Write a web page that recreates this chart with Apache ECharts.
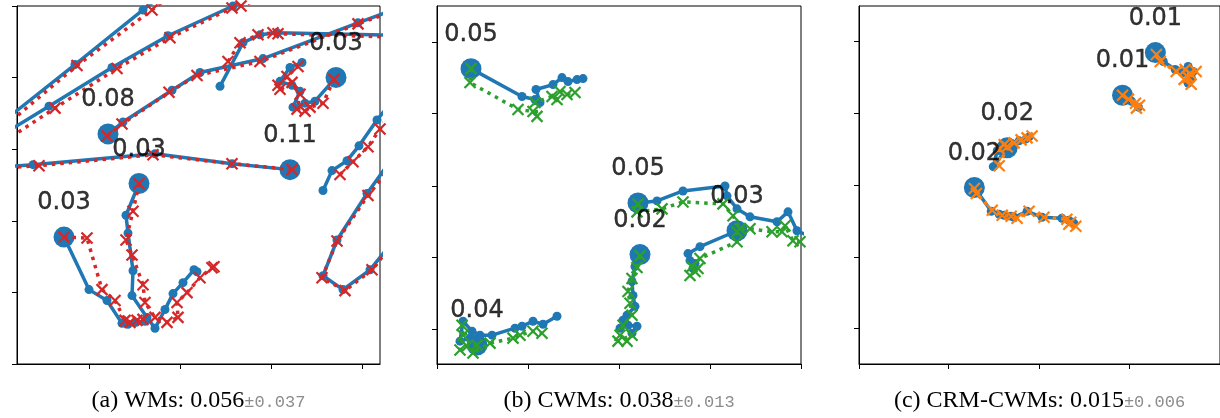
<!DOCTYPE html>
<html lang="en">
<head>
    <meta charset="UTF-8">
    <title>Trajectories</title>
    <script src="https://cdn.jsdelivr.net/npm/echarts@6/dist/echarts.min.js"></script>
    <style>
        body { margin: 0; background: #fff; }
    </style>
</head>
<body>
    <div id="main" style="width: 1220px;height:418px;"></div>
    <script type="text/javascript">
        // coordinates are read off the reference figure (axes have no tick labels)

        // (a) WMs: blue = model, red = reference
        const wmBlue = [
            [[5,121],[75,65],[143,10],[211,-45]],
            [[-14,146],[49,107],[112,68],[168,36],[233,6],[300,-20]],
            [[108,135],[123,123],[172,91],[200,73],[263,59],[358,23],[420,0]],
            [[336,78],[315,102],[305,104],[293,108],[300,92],[292,86],[280,82],[290,68],[302,63]],
            [[290,171],[232,165],[155,155],[33,166],[-5,169]],
            [[139,185],[126,217],[128,235],[133,273],[132,298],[147,320],[155,331],[165,312],[173,296],[183,285],[194,272],[197,274]],
            [[64,239],[89,292],[107,303],[122,326],[128,327],[136,325],[145,324]],
            [[400,92],[377,121],[359,147],[347,162],[332,172],[323,192]],
            [[410,135],[367,195],[337,242],[323,278],[343,292],[370,272],[410,222]],
            [[220,87],[243,43],[260,35],[277,33],[420,36]]
        ];
        const wmRed = [
            [[5,127],[77,66],[152,10],[220,-44]],
            [[-10,152],[55,109],[117,69],[170,38],[232,8],[241,6],[305,-18]],
            [[107,137],[122,125],[169,93],[197,76],[260,62],[358,24],[420,2]],
            [[334,80],[323,104],[310,108],[305,112],[297,110],[300,95],[292,83],[280,90],[278,86],[287,77],[298,67]],
            [[292,171],[232,165],[153,156],[39,167],[-5,170]],
            [[139,185],[133,213],[126,242],[132,257],[143,287],[145,305],[155,320],[167,325],[178,320],[177,305],[187,295],[200,280],[212,270],[214,269]],
            [[64,239],[87,240],[102,292],[115,303],[125,323],[130,325],[137,323],[143,322]],
            [[400,100],[380,130],[368,148],[353,163],[340,176]],
            [[412,142],[368,197],[337,243],[322,280],[345,293],[372,272],[410,224]],
            [[228,62],[240,43],[258,35],[273,33],[278,34],[420,38]]
        ];
        const wmStarts = [[108,135],[290,171],[336,78],[139,185],[64,239]];
        const wmScores = ['0.08','0.11','0.03','0.03','0.03'];

        // (b) CWMs: blue = model, green = reference
        const cwmBlue = [
            [[471,69],[522,97],[535,100],[540,103],[536,90],[553,85],[562,78],[568,82],[577,80],[583,79]],
            [[477,347],[470,340],[460,343],[463,323],[472,333],[480,337],[492,337],[515,330],[522,328],[533,323],[543,326],[557,318]],
            [[640,256],[635,268],[632,283],[633,297],[635,308],[627,317],[623,322],[620,330],[628,327],[637,328],[632,335]],
            [[638,204],[657,202],[683,192],[725,187],[727,197],[737,210],[750,218],[777,223],[788,213],[797,232],[815,240]],
            [[737,232],[700,248],[688,255],[690,262],[695,265],[693,270]]
        ];
        const cwmGreen = [
            [[471,69],[470,83],[518,110],[533,112],[537,117],[535,103],[552,97],[557,100],[560,92],[567,95],[575,93]],
            [[477,347],[467,348],[460,352],[463,337],[462,327],[473,355],[490,345],[513,340],[520,337],[533,333],[542,335]],
            [[640,257],[637,269],[632,280],[628,293],[630,305],[632,317],[623,327],[620,337],[627,343],[618,343],[632,337]],
            [[638,205],[637,213],[662,210],[683,203],[723,205],[733,217],[740,230],[750,230],[772,233],[782,233],[785,227],[793,242],[800,243]],
            [[737,233],[737,243],[700,260],[692,268],[695,273],[690,277],[698,270]]
        ];
        const cwmStarts = [[471,69],[477,347],[640,256],[638,204],[737,232]];
        const cwmScores = ['0.05','0.04','0.02','0.05','0.03'];

        // (c) CRM-CWMs: blue = model, orange = reference
        const crmBlue = [
            [[1157,53],[1165,62],[1177,70],[1185,73],[1190,67],[1195,72],[1193,78],[1190,84]],
            [[1124,96],[1133,102],[1140,108]],
            [[1008,149],[994,168],[998,152],[1003,147],[1013,145],[1020,142],[1027,140],[1030,138]],
            [[975,189],[992,213],[1000,216],[1005,217],[1012,218],[1015,219],[1028,213],[1043,219],[1063,220],[1070,222],[1073,224],[1075,225]]
        ];
        const crmOrange = [
            [[1158,55],[1162,62],[1178,72],[1187,70],[1192,74],[1198,72],[1190,78],[1193,85],[1186,80]],
            [[1124,96],[1130,100],[1137,104],[1138,109],[1141,106]],
            [[1008,148],[1000,167],[1000,150],[1005,146],[1015,144],[1022,141],[1028,139],[1033,137]],
            [[975,190],[977,195],[993,212],[1003,217],[1012,218],[1018,220],[1030,213],[1045,219],[1068,221],[1072,224],[1077,228],[1070,226]]
        ];
        const crmStarts = [[1157,53],[1124,96],[1008,149],[975,189]];
        const crmScores = ['0.01','0.01','0.02','0.02'];

        const captions = [
            ['(a) WMs: 0.056', '±0.037'],
            ['(b) CWMs: 0.038', '±0.013'],
            ['(c) CRM-CWMs: 0.015', '±0.006']
        ];
        const xRanges = [[17,380],[437,801],[859,1222]];
        const yRanges = [[6,367],[6,366],[6,367]];
        const xTicks = [[89,180,271,362],[437,528,619,710,801],[859,949,1040,1131,1222]];
        const yTicks = [[6,78,150,223,295,367],[42,114,187,259,331],[42,114,187,259,331]];

        const BLUE = '#1f77b4';
        const XMARK = 'path://M0 0L10 10M10 0L0 10';

        let grids = [], xAxes = [], yAxes = [], series = [];

        function addPanel(g, blues, others, color, starts, scores) {
            grids.push({
                left: xRanges[g][0], top: yRanges[g][0],
                width: xRanges[g][1] - xRanges[g][0], height: yRanges[g][1] - yRanges[g][0],
                show: true, borderColor: '#000', borderWidth: 1
            });
            xAxes.push({
                gridIndex: g, type: 'value', min: xRanges[g][0], max: xRanges[g][1],
                axisLine: { show: true, lineStyle: { color: '#000', width: 1 } },
                axisTick: { show: true, inside: false, length: 5, lineStyle: { color: '#000' }, customValues: xTicks[g] },
                axisLabel: { show: false },
                splitLine: { show: false },
                name: '{m|' + captions[g][0] + '}{s|' + captions[g][1] + '}',
                nameLocation: 'middle', nameGap: 25,
                nameTextStyle: {
                    rich: {
                        m: { fontFamily: 'Liberation Serif', fontSize: 24, color: '#000', verticalAlign: 'bottom' },
                        s: { fontFamily: 'Liberation Mono', fontSize: 17, color: '#8c8c8c', verticalAlign: 'bottom', padding: [0, 0, 2, 0] }
                    }
                }
            });
            yAxes.push({
                gridIndex: g, type: 'value', inverse: true, min: yRanges[g][0], max: yRanges[g][1],
                axisLine: { show: true, lineStyle: { color: '#000', width: 1 } },
                axisTick: { show: true, inside: false, length: 5, lineStyle: { color: '#000' }, customValues: yTicks[g] },
                axisLabel: { show: false },
                splitLine: { show: false }
            });
            for (const t of blues) {
                series.push({
                    type: 'line', xAxisIndex: g, yAxisIndex: g, data: t,
                    symbol: 'circle', symbolSize: 9, showAllSymbol: true,
                    lineStyle: { color: BLUE, width: 3.5 }, itemStyle: { color: BLUE }, z: 2
                });
            }
            series.push({
                type: 'scatter', xAxisIndex: g, yAxisIndex: g, data: starts,
                symbolSize: 21, itemStyle: { color: BLUE, opacity: 1 }, z: 2
            });
            for (const t of others) {
                series.push({
                    type: 'line', xAxisIndex: g, yAxisIndex: g, data: t,
                    symbol: XMARK, symbolSize: 11, showAllSymbol: true,
                    lineStyle: { color: color, width: 3.5, type: [3.5, 5] },
                    itemStyle: { color: color, borderColor: color, borderWidth: 2.2 }, z: 3
                });
            }
            series.push({
                type: 'scatter', xAxisIndex: g, yAxisIndex: g,
                data: starts.map((p, i) => [p[0], p[1], scores[i]]),
                symbolSize: 20, itemStyle: { color: 'transparent' }, z: 5,
                label: {
                    show: true, position: 'top', distance: 12,
                    formatter: (p) => p.value[2],
                    fontFamily: 'DejaVu Sans', fontSize: 24, color: '#000',
                    textBorderColor: '#000', textBorderWidth: 0.4
                }
            });
        }

        addPanel(0, wmBlue, wmRed, '#d62728', wmStarts, wmScores);
        addPanel(1, cwmBlue, cwmGreen, '#2ca02c', cwmStarts, cwmScores);
        addPanel(2, crmBlue, crmOrange, '#ff7f0e', crmStarts, crmScores);

        let myChart = echarts.init(document.getElementById('main'));
        myChart.setOption({
            animation: false,
            backgroundColor: '#fff',
            grid: grids,
            xAxis: xAxes,
            yAxis: yAxes,
            series: series.map(s => Object.assign(s, { emphasis: { disabled: true }, silent: true }))
        });
    </script>
</body>
</html>
